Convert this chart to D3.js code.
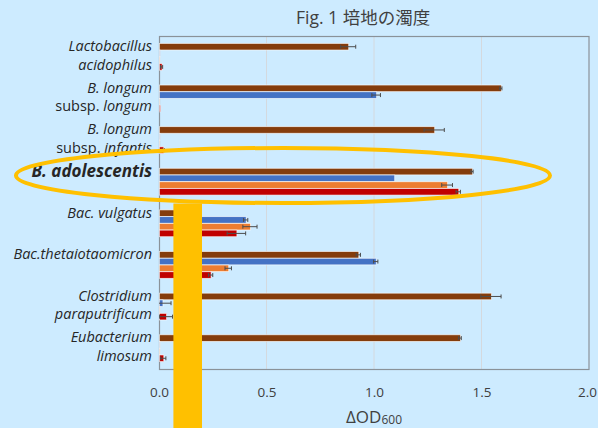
<!DOCTYPE html>
<html><head><meta charset="utf-8">
<script src="https://cdn.jsdelivr.net/npm/d3@7"></script>
<style>body{margin:0;background:#cdebff;}svg{display:block;}</style>
</head><body>
<svg id="c" width="598" height="428"></svg>
<script>
const categories = ["lacto","longum","infantis","adol","vulgatus","theta","clostridium","eubacterium"];
const labelLines = [
  ["Lactobacillus","acidophilus"],
  ["B. longum","subsp. longum"],
  ["B. longum","subsp. infantis"],
  ["B. adolescentis"],
  ["Bac. vulgatus"],
  ["Bac.thetaiotaomicron"],
  ["Clostridium","paraputrificum"],
  ["Eubacterium","limosum"]
];
const seriesNames = ["s1","s2","s3","s4"];
const seriesColors = ["#843c0c","#4472c4","#ed7d31","#c00000"];
const brownValues  = [0.88, 1.59, 1.28, 1.456, 0.15, 0.927, 1.544, 1.40];
const blueValues   = [0.003, 1.01, 0.003, 1.094, 0.403, 1.008, 0.016, 0.002];
const orangeValues = [0.002, 0.001, 0.001, 1.34, 0.423, 0.322, 0.002, 0.002];
const redValues    = [0.012, 0.005, 0.02, 1.392, 0.36, 0.24, 0.033, 0.02];
const brownErr  = [0.035, 0.005, 0.047, 0.005, 0.01, 0.01, 0.047, 0.006];
const blueErr   = [0.003, 0.02, 0.003, 0.004, 0.01, 0.01, 0.04, 0.002];
const orangeErr = [0.002, 0.001, 0.001, 0.025, 0.033, 0.015, 0.002, 0.002];
const redErr    = [0.005, 0.004, 0.005, 0.01, 0.043, 0.01, 0.03, 0.012];
const xTicks = [0, 0.5, 1.0, 1.5, 2.0];

const values = [brownValues, blueValues, orangeValues, redValues];
const errs = [brownErr, blueErr, orangeErr, redErr];

const svg = d3.select("#c");
const L = 159, R = 589, T = 36, B = 369;
const x = d3.scaleLinear().domain([0, 2]).range([L, R]);
const y0 = d3.scaleBand().domain(categories).range([T, B]).padding(0);
const bw = y0.bandwidth();
const y1 = d3.scaleBand().domain(seriesNames).range([bw*0.175, bw*0.825]).padding(0.02);

svg.append("rect").attr("width",598).attr("height",428).attr("fill","#cdebff");
svg.append("defs").append("clipPath").attr("id","pc").append("rect")
  .attr("x",L).attr("y",T).attr("width",R-L).attr("height",B-T);

// title
svg.append("text").attr("x",296).attr("y",24).attr("font-family","'Open Sans','Noto Sans CJK JP',sans-serif")
  .attr("font-size",17.5).attr("fill","#404040").text("Fig. 1 培地の濁度");

// gridlines
svg.append("g").selectAll("line").data(xTicks.slice(1,-1)).join("line")
  .attr("x1",d=>x(d)).attr("x2",d=>x(d)).attr("y1",T).attr("y2",B)
  .attr("stroke","#d4d9de").attr("stroke-width",1);

// frame
svg.append("rect").attr("x",L+0.5).attr("y",T+0.5).attr("width",R-L-0.5).attr("height",B-T)
  .attr("fill","none").attr("stroke","#8a9299").attr("stroke-width",1.2);

// bars
const data = [];
categories.forEach((c,i)=>seriesNames.forEach((s,j)=>data.push({c,s,j,v:values[j][i],e:errs[j][i]})));
const g = svg.append("g");
g.selectAll("rect").data(data).join("rect")
  .attr("x", x(0)+0.5)
  .attr("y", d=>y0(d.c)+y1(d.s))
  .attr("width", d=>Math.max(0, x(d.v)-x(0)))
  .attr("height", y1.bandwidth())
  .attr("fill", d=>seriesColors[d.j])
  .attr("stroke","#fff").attr("stroke-opacity",0.75).attr("stroke-width",0.8);

// error bars
const eg = svg.append("g").attr("stroke","#4d4d4d").attr("stroke-width",1).attr("clip-path","url(#pc)");
data.filter(d=>d.e>0.004).forEach(d=>{
  const cy = y0(d.c)+y1(d.s)+y1.bandwidth()/2;
  const x1 = x(d.v-d.e), x2 = x(d.v+d.e);
  eg.append("line").attr("x1",x1).attr("x2",x2).attr("y1",cy).attr("y2",cy);
  eg.append("line").attr("x1",x1).attr("x2",x1).attr("y1",cy-2).attr("y2",cy+2);
  eg.append("line").attr("x1",x2).attr("x2",x2).attr("y1",cy-2).attr("y2",cy+2);
});

// x axis labels
const xAxis = d3.axisBottom(x).tickValues(xTicks).tickFormat(d3.format(".1f")).tickSize(0).tickPadding(18);
const ax = svg.append("g").attr("transform",`translate(0,${B})`).call(xAxis);
ax.select(".domain").remove();
ax.selectAll("text").attr("font-family","'Open Sans',sans-serif").attr("font-size",13.5).attr("fill","#404040");
ax.selectAll(".tick").filter(d=>d===2).select("text").attr("dx",-2);

// x title
const xt = svg.append("text").attr("x",374).attr("y",423).attr("text-anchor","middle")
  .attr("font-family","'Open Sans',sans-serif").attr("font-size",17).attr("fill","#404040");
xt.append("tspan").text("ΔOD");
xt.append("tspan").attr("font-size",12).attr("dy",1).text("600");

// y labels
const yl = svg.append("g").attr("font-family","'Open Sans',sans-serif").attr("fill","#262626");
categories.forEach((c,i)=>{
  const lines = labelLines[i];
  const top = y0(c);
  if (c === "adol") {
    yl.append("text").attr("x",152).attr("y",top+16.5).attr("text-anchor","end")
      .attr("font-size",17).attr("font-weight","bold").attr("font-style","italic").text(lines[0]);
    return;
  }
  const t0 = yl.append("text").attr("x",152).attr("y",top+15).attr("text-anchor","end").attr("font-size",14.5);
  if (c === "longum" || c === "infantis") {
    t0.attr("font-style","italic").text(lines[0]);
    const t1 = yl.append("text").attr("x",152).attr("y",top+33.5).attr("text-anchor","end").attr("font-size",14.5);
    t1.append("tspan").text("subsp. ");
    t1.append("tspan").attr("font-style","italic").text(lines[1].replace("subsp. ",""));
  } else {
    t0.attr("font-style","italic").text(lines[0]);
    if (lines[1]) yl.append("text").attr("x",152).attr("y",top+33.5).attr("text-anchor","end")
      .attr("font-size",14.5).attr("font-style","italic").text(lines[1]);
  }
});

// highlight ellipse
svg.append("ellipse").attr("cx",283).attr("cy",175.5).attr("rx",267).attr("ry",27.5)
  .attr("fill","none").attr("stroke","#ffc000").attr("stroke-width",4);

// yellow vertical bar
svg.append("rect").attr("x",x(0.067)).attr("y",203.5).attr("width",x(0.2)-x(0.067)).attr("height",428-203.5)
  .attr("fill","#ffc000");
</script>
</body></html>
